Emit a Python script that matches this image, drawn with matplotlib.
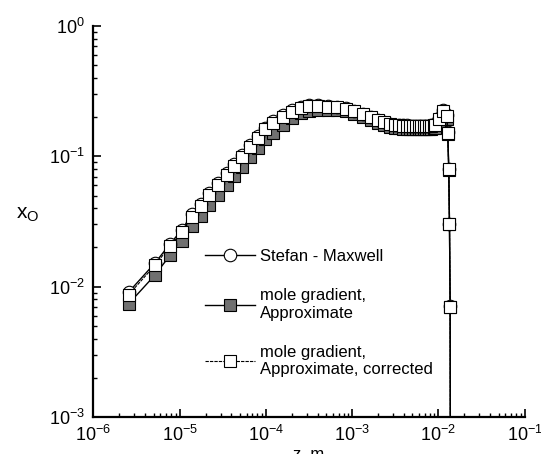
import math
import matplotlib
matplotlib.use('Agg')
import matplotlib.pyplot as plt
from matplotlib.ticker import LogLocator, FuncFormatter, NullFormatter

plt.rcParams['font.family'] = ['Liberation Sans', 'DejaVu Sans']
plt.rcParams['mathtext.fontset'] = 'custom'
plt.rcParams['mathtext.rm'] = 'Liberation Sans'
plt.rcParams['mathtext.it'] = 'Liberation Sans:italic'

# ---- data ----
z = [2.576e-6, 5.20e-6, 7.76e-6, 1.062e-5, 1.387e-5, 1.762e-5, 2.218e-5, 2.805e-5,
     3.532e-5, 4.305e-5, 5.27e-5, 6.52e-5, 8.02e-5, 9.86e-5, 1.225e-4, 1.574e-4,
     2.004e-4, 2.547e-4, 3.206e-4, 4.074e-4, 5.32e-4, 6.76e-4, 8.43e-4, 1.057e-3,
     1.334e-3, 1.652e-3, 1.995e-3, 2.377e-3, 2.767e-3, 3.162e-3,
     3.524e-3, 3.917e-3, 4.285e-3, 4.677e-3, 5.117e-3, 5.495e-3, 5.902e-3,
     6.324e-3, 6.792e-3, 7.295e-3, 7.816e-3, 8.337e-3, 8.81e-3, 9.226e-3,
     1.023e-2, 1.135e-2, 1.259e-2, 1.288e-2, 1.324e-2, 1.349e-2, 1.374e-2, 1.387e-2]

x_stefan_maxwell = [0.0091, 0.0152, 0.0213, 0.0272, 0.0359, 0.0433, 0.0525, 0.0626,
                    0.0747, 0.0877, 0.103, 0.122, 0.143, 0.166, 0.187, 0.207,
                    0.226, 0.241, 0.246, 0.246, 0.243, 0.239, 0.233, 0.224,
                    0.212, 0.200, 0.190, 0.183, 0.178, 0.175,
                    0.174, 0.173, 0.173, 0.172, 0.172, 0.172, 0.172,
                    0.172, 0.172, 0.172, 0.172, 0.173, 0.174, 0.177,
                    0.196, 0.228, 0.208, 0.153, 0.0800, 0.0305, 0.00710, 0.0001]

x_approx = [0.0074, 0.0123, 0.0174, 0.0225, 0.0293, 0.0350, 0.0424, 0.0506,
            0.0603, 0.0708, 0.0834, 0.0983, 0.116, 0.135, 0.152, 0.175,
            0.196, 0.214, 0.224, 0.228, 0.228, 0.226, 0.221, 0.212,
            0.201, 0.189, 0.180, 0.173, 0.168, 0.165,
            0.164, 0.163, 0.163, 0.163, 0.163, 0.163, 0.163,
            0.163, 0.163, 0.163, 0.163, 0.163, 0.164, 0.166,
            0.180, 0.210, 0.195, 0.148, 0.0790, 0.0300, 0.00700, 0.0001]

x_corrected = [0.0087, 0.0146, 0.0205, 0.0262, 0.0345, 0.0416, 0.0505, 0.0602,
               0.0718, 0.0843, 0.0993, 0.117, 0.138, 0.161, 0.181, 0.201,
               0.220, 0.236, 0.242, 0.243, 0.241, 0.238, 0.232, 0.223,
               0.211, 0.199, 0.189, 0.182, 0.177, 0.174,
               0.173, 0.172, 0.172, 0.171, 0.171, 0.171, 0.171,
               0.171, 0.171, 0.171, 0.171, 0.172, 0.173, 0.175,
               0.192, 0.222, 0.205, 0.152, 0.0794, 0.0302, 0.00701, 0.0001]

labels = ['Stefan - Maxwell', 'mole gradient,\nApproximate',
          'mole gradient,\nApproximate, corrected']

# ---- figure ----
fig = plt.figure(figsize=(5.41, 4.54), dpi=100)
ax = fig.add_axes([93.3/541, 1 - 417/454, (524.5 - 93.3)/541, (417 - 26)/454])

l2, = ax.plot(z, x_approx, color='black', lw=1.0, marker='s', ms=8,
              mfc='#707070', mec='black', mew=0.8, zorder=2)
l1, = ax.plot(z, x_stefan_maxwell, color='black', lw=1.0, marker='o', ms=9,
              mfc='white', mec='black', mew=0.8, zorder=3)
l3, = ax.plot(z, x_corrected, color='black', lw=0.8, ls=(0, (3, 1)), marker='s', ms=8,
              mfc='white', mec='black', mew=0.8, zorder=4)

ax.set_xscale('log')
ax.set_yscale('log')
ax.set_xlim(1e-6, 1e-1)
ax.set_ylim(1e-3, 1e0)

for s in ['top', 'right']:
    ax.spines[s].set_visible(False)
for s in ['left', 'bottom']:
    ax.spines[s].set_linewidth(1.6)

fmt = FuncFormatter(lambda v, p: r'$\mathregular{10^{%d}}$' % round(math.log10(v)))
ax.xaxis.set_major_locator(LogLocator(base=10, numticks=10))
ax.yaxis.set_major_locator(LogLocator(base=10, numticks=10))
ax.xaxis.set_minor_locator(LogLocator(base=10, subs=range(2, 10), numticks=20))
ax.yaxis.set_minor_locator(LogLocator(base=10, subs=range(2, 10), numticks=20))
ax.xaxis.set_major_formatter(fmt)
ax.yaxis.set_major_formatter(fmt)
ax.xaxis.set_minor_formatter(NullFormatter())
ax.yaxis.set_minor_formatter(NullFormatter())

ax.tick_params(which='major', direction='in', length=6, width=1.2, labelsize=13)
ax.tick_params(which='minor', direction='in', length=3, width=1.0)
ax.tick_params(axis='x', which='major', pad=6)
ax.tick_params(axis='y', which='major', pad=6)
ax.tick_params(top=False, right=False)

ax.set_xlabel('z, m', fontsize=12, labelpad=1)
ax.set_ylabel(r'$\mathregular{x_O}$', fontsize=15, rotation=0)
ax.yaxis.set_label_coords((28 - 93.3) / 431.2, (417 - 224) / 391)

leg = ax.legend([l1, l2, l3], labels, loc='upper left',
                bbox_to_anchor=((205 - 93.3) / 431.2, (417 - 249) / 391),
                frameon=False, fontsize=12, handlelength=3.0, handletextpad=0.3,
                labelspacing=1.45, borderpad=0, borderaxespad=0)
for t in leg.get_texts():
    t.set_linespacing(1.2)

fig.savefig('out.png', dpi=100)
